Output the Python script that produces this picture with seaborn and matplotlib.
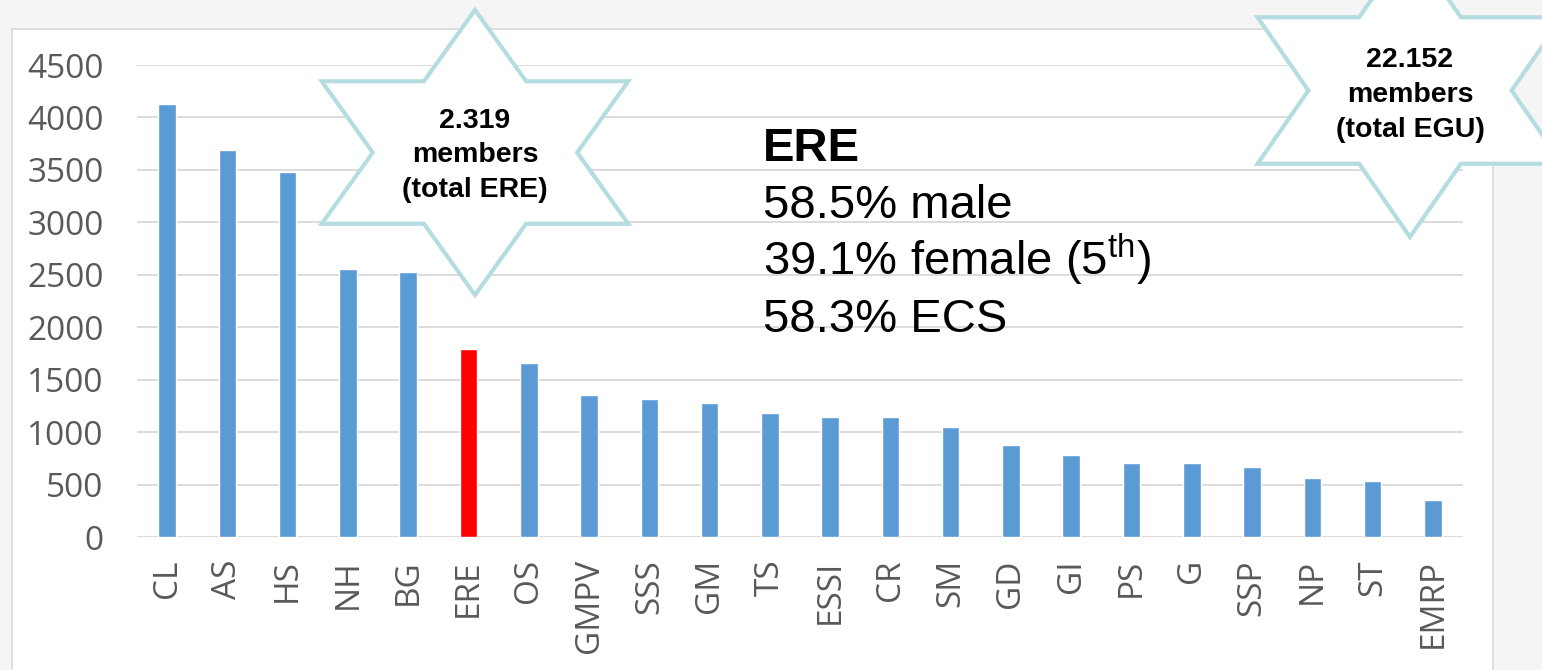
import numpy as np
import seaborn as sns
import matplotlib.pyplot as plt
from matplotlib.patches import Polygon, Rectangle

# EGU divisions and their members
divisions = ["CL", "AS", "HS", "NH", "BG", "ERE", "OS", "GMPV", "SSS", "GM", "TS",
             "ESSI", "CR", "SM", "GD", "GI", "PS", "G", "SSP", "NP", "ST", "EMRP"]
members = [4130, 3690, 3480, 2552, 2530, 1795, 1659, 1354, 1316, 1281, 1182,
           1144, 1144, 1049, 880, 785, 709, 709, 671, 559, 537, 350]
highlight = "ERE"
y_ticks = [0, 500, 1000, 1500, 2000, 2500, 3000, 3500, 4000, 4500]

ere_title = "ERE"
ere_lines = ["58.5% male", "39.1% female (5$^{\\mathrm{th}}$)", "58.3% ECS"]
star_ere = ["2.319", "members", "(total ERE)"]
star_egu = ["22.152", "members", "(total EGU)"]

BLUE = "#5b9bd5"
RED = "#ff0000"
GRID = "#d9d9d9"
STAR = "#b5dde1"

W, H = 1542, 670


def fx(x):
    return x / W


def fy(y):
    return 1 - y / H


def hexagram(cx, cy, rx, ry):
    pts = []
    for k in range(12):
        ang = np.deg2rad(90 - 30 * k)
        f = 1.0 if k % 2 == 0 else 1 / np.sqrt(3)
        pts.append((fx(cx + rx * f * np.cos(ang)), fy(cy - ry * f * np.sin(ang))))
    return pts


sns.set_style("white")
plt.rcParams["font.family"] = ["Open Sans", "DejaVu Sans"]
plt.rcParams["mathtext.fontset"] = "custom"
plt.rcParams["mathtext.rm"] = "Liberation Sans"

fig = plt.figure(figsize=(W / 100, H / 100), dpi=100, facecolor="#f5f5f5")

# white chart area with thin border
fig.add_artist(Rectangle((fx(12), fy(720)), fx(1493) - fx(12), fy(29) - fy(720),
                         transform=fig.transFigure, facecolor="white",
                         edgecolor=GRID, lw=1.2, zorder=-1))

ax = fig.add_axes([fx(137), fy(537), fx(1463) - fx(137), fy(65) - fy(537)])
ax.set_facecolor("none")

palette = {d: (RED if d == highlight else BLUE) for d in divisions}
sns.barplot(x=divisions, y=members, hue=divisions, palette=palette, width=0.29,
            saturation=1, legend=False, ax=ax)

ax.set_ylim(0, 4500)
ax.set_yticks(y_ticks)
ax.grid(axis="y", color=GRID, lw=1.3)
ax.set_axisbelow(True)
sns.despine(ax=ax, left=True, bottom=True)
ax.tick_params(axis="y", length=0, pad=24, labelsize=24, labelcolor="#595959")
ax.tick_params(axis="x", length=0, pad=16, labelsize=24, labelcolor="#595959",
               labelrotation=90)
ax.set_xlabel("")
ax.set_ylabel("")

# stars
for cx, cy, rx, ry in [(475, 152.5, 177, 142.5), (1410, 90.5, 176, 146.5)]:
    fig.add_artist(Polygon(hexagram(cx, cy, rx, ry), closed=True,
                           transform=fig.transFigure, facecolor="white",
                           edgecolor=STAR, lw=3, zorder=5))

for cx, lines, bases in [(475, star_ere, [128, 162, 197]),
                         (1410, star_egu, [67, 102, 137])]:
    for txt, b in zip(lines, bases):
        fig.text(fx(cx), fy(b), txt, ha="center", va="baseline", fontsize=20.5,
                 fontweight="bold", family="Liberation Sans", color="black", zorder=6)

# ERE summary
fig.text(fx(763), fy(161), ere_title, ha="left", va="baseline", fontsize=34,
         fontweight="bold", family="Liberation Sans", color="black", zorder=6)
for txt, b in zip(ere_lines, [218, 275, 332]):
    fig.text(fx(763), fy(b), txt, ha="left", va="baseline", fontsize=34,
             family="Liberation Sans", color="black", zorder=6)

fig.savefig("out.png", dpi=100, facecolor=fig.get_facecolor())
